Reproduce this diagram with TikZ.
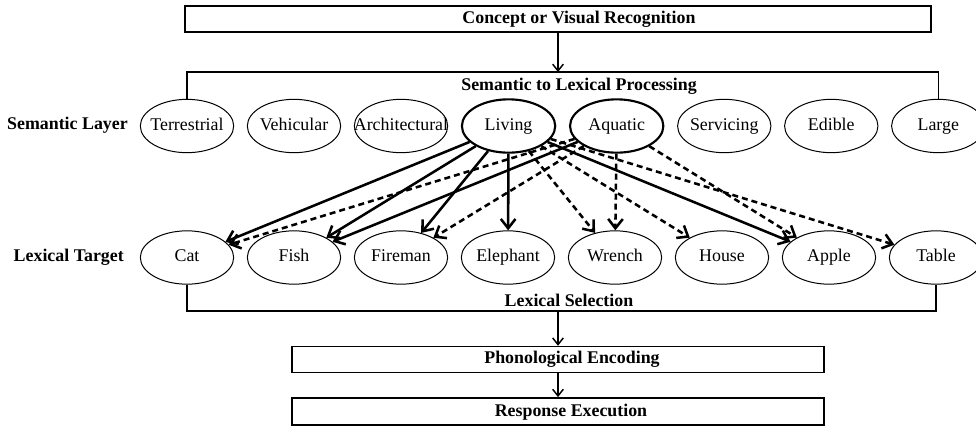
\documentclass[tikz,border=0pt]{standalone}
\usepackage{fontspec}
\setmainfont{Liberation Serif}
\usetikzlibrary{arrows.meta, positioning, shapes.geometric}

\begin{document}
\begin{tikzpicture}[x=0.75pt, y=-0.75pt, node distance=9.5pt,
  >={Straight Barb[length=5pt,width=8pt]},
  font=\fontsize{13.4}{16}\selectfont,
  concept/.style={ellipse, draw, line width=0.75pt, minimum width=70pt, minimum height=40pt, inner xsep=-11pt, inner ysep=0pt, text height=9pt, text depth=3pt},
  active/.style={concept, line width=1.6pt},
  stage/.style={rectangle, draw, line width=1.1pt, minimum height=19.5pt},
  layer/.style={inner sep=0pt, font=\fontsize{13.4}{16}\selectfont\bfseries},
  link/.style={->, line width=1.9pt, >={Straight Barb[length=7pt,width=11pt]}},
  weaklink/.style={link, dash pattern=on 4.5pt off 3pt}]
\useasboundingbox (0,0) rectangle (976,437);

% Stages
\node[stage, minimum width=559.5pt] (recognition) at (558,19) {};
\node[stage, minimum width=399pt] (phonology) at (558,359.5) {};
\node[stage, minimum width=399pt, minimum height=20.5pt] (response) at (558,411.5) {};
\node[layer] (recognitiontext) at (579,19) {Concept or Visual Recognition};
\node[layer] (phonologytext) at (572,359.5) {Phonological Encoding};
\node[layer] (responsetext) at (571,412) {Response Execution};

% Semantic layer
\node[concept] (terrestrial) at (187,126) {Terrestrial};
\node[concept, right=of terrestrial] (vehicular) {Vehicular};
\node[concept, right=of vehicular] (architectural) {Architectural};
\node[active, right=of architectural] (living) {Living};
\node[active, right=of living] (aquatic) {Aquatic};
\node[concept, right=of aquatic] (servicing) {Servicing};
\node[concept, right=of servicing] (edible) {Edible};
\node[concept, right=of edible] (large) {Large};

% Lexical targets
\node[concept] (cat) at (187,257.5) {Cat};
\node[concept, right=of cat] (fish) {Fish};
\node[concept, right=of fish] (fireman) {Fireman};
\node[concept, right=of fireman] (elephant) {Elephant};
\node[concept, right=of elephant] (wrench) {Wrench};
\node[concept, right=of wrench] (house) {House};
\node[concept, right=of house] (apple) {Apple};
\node[concept, right=of apple] (table) {Table};

% Labels
\node[layer, anchor=east] (semlayer) at (128,125) {Semantic Layer};
\node[layer, anchor=east] (lextarget) at (124,257) {Lexical Target};
\node[layer] (semproc) at (579,86) {Semantic to Lexical Processing};
\node[layer] (lexsel) at (569,300) {Lexical Selection};

% Brackets
\coordinate (semtop) at (558,72);
\coordinate (lexbot) at (558,311);
\draw[line width=1.1pt] (terrestrial.north) -- (terrestrial.north |- semtop) -- (large.north |- semtop) -- (large.north);
\draw[line width=1.1pt] (cat.south) -- (cat.south |- lexbot) -- (table.south |- lexbot) -- (table.south);

% Flow between stages
\draw[->, line width=1.1pt] (recognition) -- (semtop);
\draw[->, line width=1.1pt] (lexbot) -- (phonology);
\draw[->, line width=1.1pt] (phonology) -- (response);

% Strong links
\draw[link] (living) -- (cat);
\draw[link] (living) -- (fish);
\draw[link] (living) -- (fireman);
\draw[link] (living) -- (elephant);
\draw[link] (living) -- (apple);
\draw[link] (aquatic) -- (fish);

% Weak links
\draw[weaklink] (aquatic) -- (cat);
\draw[weaklink] (aquatic) -- (fireman);
\draw[weaklink] (living) -- (wrench);
\draw[weaklink] (aquatic) -- (wrench);
\draw[weaklink] (living) -- (house);
\draw[weaklink] (aquatic) -- (apple);
\draw[weaklink] (living) -- (table);
\end{tikzpicture}
\end{document}
